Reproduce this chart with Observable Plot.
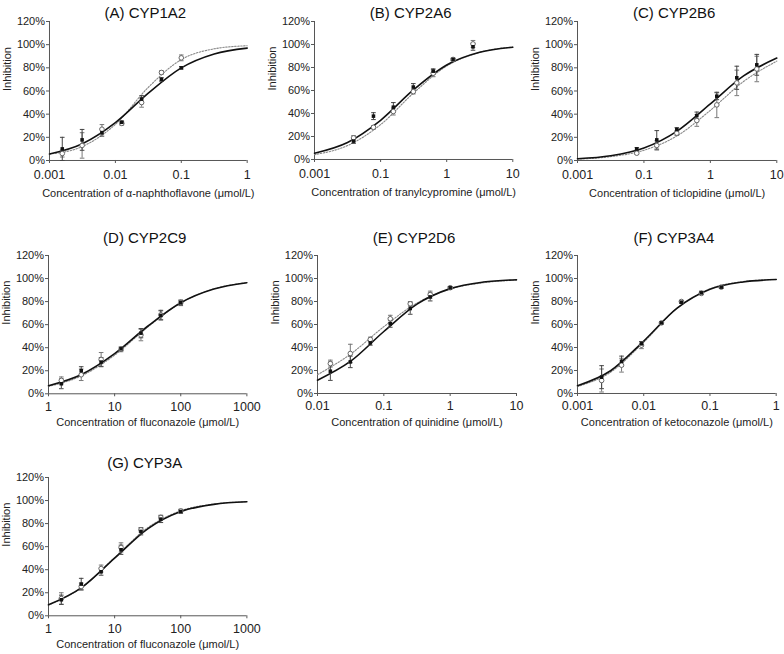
<!DOCTYPE html>
<html>
<head>
<meta charset="utf-8">
<script src="https://cdn.jsdelivr.net/npm/d3@7"></script>
<script src="https://cdn.jsdelivr.net/npm/@observablehq/plot@0.6"></script>
<style>
  html, body { margin: 0; padding: 0; background: #fff; overflow: hidden; }
  #chart { position: relative; width: 784px; height: 654px; background: #fff; }
  #chart svg { position: absolute; }
</style>
</head>
<body>
<div id="chart"></div>
<script>
// ---------- Data ----------
const titles = ["(A) CYP1A2", "(B) CYP2A6", "(C) CYP2B6", "(D) CYP2C9", "(E) CYP2D6", "(F) CYP3A4", "(G) CYP3A"];
const xAxisTitles = [
  "Concentration of α-naphthoflavone (μmol/L)",
  "Concentration of tranylcypromine (μmol/L)",
  "Concentration of ticlopidine (μmol/L)",
  "Concentration of fluconazole (μmol/L)",
  "Concentration of quinidine (μmol/L)",
  "Concentration of ketoconazole (μmol/L)",
  "Concentration of fluconazole (μmol/L)"
];
const yAxisTitle = "Inhibition";
const yTicks = [0, 20, 40, 60, 80, 100, 120];

// x tick positions and their printed labels
const ticksA = [0.001, 0.01, 0.1, 1];   const tickLabelsA = ["0.001", "0.01", "0.1", "1"];
const ticksB = [0.01, 0.1, 1, 10];      const tickLabelsB = ["0.001", "0.1", "1", "10"];
const ticksC = [0.01, 0.1, 1, 10];      const tickLabelsC = ["0.001", "0.1", "1", "10"];
const ticksD = [1, 10, 100, 1000];      const tickLabelsD = ["1", "10", "100", "1000"];
const ticksE = [0.01, 0.1, 1, 10];      const tickLabelsE = ["0.01", "0.1", "1", "10"];
const ticksF = [0.001, 0.01, 0.1, 1];   const tickLabelsF = ["0.001", "0.01", "0.1", "1"];
const ticksG = [1, 10, 100, 1000];      const tickLabelsG = ["1", "10", "100", "1000"];

// (A) CYP1A2
const concA = [0.0015625, 0.003125, 0.00625, 0.0125, 0.025, 0.05, 0.1];
const filledA = [10, 17.8, 24, 33, 53, 70, 80];
const filledErrA = [10, 9, 3, 1, 3, 1.5, 1];
const openA = [6, 13, 27, 32, 50, 76, 88.6];
const openErrA = [3, 11, 4, 1.5, 4, 1.5, 2.5];
const curveXA = [0.001, 0.00316, 0.01, 0.0316, 0.1, 0.316, 1];
const solidA = [5.6, 14.5, 32.7, 58.2, 80.0, 92.0, 97.0];
const dottedA = [5.5, 12.1, 31.2, 63.2, 87.1, 96.4, 99.1];

// (B) CYP2A6
const concB = [0.039, 0.078, 0.156, 0.3125, 0.625, 1.25, 2.5];
const filledB = [16, 37.7, 45.5, 63, 76.8, 87, 98];
const filledErrB = [2, 3, 4, 3, 2, 1, 3];
const openB = [18.8, 28, 41.7, 59, 75, 87, 100.5];
const openErrB = [2, 1.5, 3, 2, 3, 1, 3];
const curveXB = [0.01, 0.0316, 0.1, 0.316, 1, 3.16, 10];
const solidB = [5.5, 14.8, 34.1, 60.7, 82.2, 93.2, 97.6];
const dottedB = [4.2, 12.1, 30.3, 57.9, 81.3, 93.2, 97.8];

// (C) CYP2B6
const concC = [0.078, 0.156, 0.3125, 0.625, 1.25, 2.5, 5];
const filledC = [10, 17.8, 26.8, 38.8, 55.5, 71.4, 82.6];
const filledErrC = [1, 8, 1.5, 3, 3, 10, 9];
const openC = [6.3, 13, 23.6, 34.5, 48, 67, 79];
const openErrC = [1, 4, 2, 5, 11, 11, 11];
const curveXC = [0.01, 0.0316, 0.1, 0.316, 1, 3.16, 10];
const solidC = [1.5, 4.1, 10.8, 25.4, 48.9, 73.0, 88.4];
const dottedC = [1.2, 3.3, 8.8, 21.3, 43.3, 68.2, 85.8];

// (D) CYP2C9
const concD = [1.5625, 3.125, 6.25, 12.5, 25, 50, 100];
const filledD = [8.7, 20, 27.5, 39, 52.6, 68, 79];
const filledErrD = [4.3, 3.5, 4, 1.5, 4, 4, 2];
const openD = [11.6, 16.5, 29.8, 38.5, 51, 68.5, 79];
const openErrD = [3, 5, 6, 2, 5, 4, 2.5];
const curveXD = [1, 3.16, 10, 31.6, 100, 316, 1000];
const solidD = [7.0, 16.7, 34.8, 58.6, 79.0, 90.9, 96.4];
const dottedD = [6.4, 15.6, 33.5, 57.8, 78.9, 91.0, 96.5];

// (E) CYP2D6
const concE = [0.015625, 0.03125, 0.0625, 0.125, 0.25, 0.5, 1];
const filledE = [19.4, 27.5, 44, 60.6, 73.9, 84, 91.9];
const filledErrE = [8, 5, 2, 3, 5, 3.5, 1];
const openE = [26, 34.8, 47, 65, 78, 86, 92];
const openErrE = [3, 8, 2, 3, 2, 3, 1];
const curveXE = [0.01, 0.0316, 0.1, 0.316, 1, 3.16, 10];
const solidE = [11.6, 28.1, 53.9, 77.7, 91.2, 96.9, 98.9];
const dottedE = [16.4, 34.3, 58.1, 78.7, 90.8, 96.3, 98.6];

// (F) CYP3A4
const concF = [0.0023125, 0.004625, 0.00925, 0.0185, 0.037, 0.074, 0.148];
const filledF = [14.2, 28, 43.2, 61.4, 79.4, 87.5, 92.5];
const filledErrF = [10, 4.5, 2, 1, 1, 1.5, 1];
const openF = [11.3, 24.6, 42, 61.4, 80, 87, 92.5];
const openErrF = [10, 6, 3, 1, 1, 1, 1];
const curveXF = [0.001, 0.00316, 0.01, 0.0316, 0.1, 0.316, 1];
const solidF = [6.8, 19.8, 45.6, 74.0, 90.6, 97.0, 99.1];
const dottedF = [6.0, 18.5, 44.6, 74.1, 91.0, 97.3, 99.2];

// (G) CYP3A
const concG = [1.5625, 3.125, 6.25, 12.5, 25, 50, 100];
const filledG = [13.9, 27.5, 38.2, 57.3, 73.2, 83.9, 90.5];
const filledErrG = [4, 5, 3, 4, 3, 3, 1.5];
const openG = [15, 25.4, 41, 59.3, 74.6, 85.3, 91];
const openErrG = [5, 3, 3, 4, 2, 2, 1.5];
const curveXG = [1, 3.16, 10, 31.6, 100, 316, 1000];
const solidG = [9.5, 24.5, 50, 75.5, 90.5, 96.7, 98.9];
const dottedG = [9.3, 24.4, 50.5, 76.4, 91.1, 97.0, 99.0];

// ---------- Panel assembly ----------
const panelData = [
  {ticks: ticksA, labels: tickLabelsA, conc: concA, filled: filledA, filledErr: filledErrA, open: openA, openErr: openErrA, cx: curveXA, solid: solidA, dotted: dottedA},
  {ticks: ticksB, labels: tickLabelsB, conc: concB, filled: filledB, filledErr: filledErrB, open: openB, openErr: openErrB, cx: curveXB, solid: solidB, dotted: dottedB},
  {ticks: ticksC, labels: tickLabelsC, conc: concC, filled: filledC, filledErr: filledErrC, open: openC, openErr: openErrC, cx: curveXC, solid: solidC, dotted: dottedC},
  {ticks: ticksD, labels: tickLabelsD, conc: concD, filled: filledD, filledErr: filledErrD, open: openD, openErr: openErrD, cx: curveXD, solid: solidD, dotted: dottedD},
  {ticks: ticksE, labels: tickLabelsE, conc: concE, filled: filledE, filledErr: filledErrE, open: openE, openErr: openErrE, cx: curveXE, solid: solidE, dotted: dottedE},
  {ticks: ticksF, labels: tickLabelsF, conc: concF, filled: filledF, filledErr: filledErrF, open: openF, openErr: openErrF, cx: curveXF, solid: solidF, dotted: dottedF},
  {ticks: ticksG, labels: tickLabelsG, conc: concG, filled: filledG, filledErr: filledErrG, open: openG, openErr: openErrG, cx: curveXG, solid: solidG, dotted: dottedG}
];

// layout: plot frame in page pixels, title offset above frame, x-title offset below frame
const layout = [
  {x0: 49.3, x1: 247,   y0: 21,    y1: 160,   titleDy: 8,  labelDy: 33, tickPad: 7},
  {x0: 313.7, x1: 512,  y0: 21,    y1: 159,   titleDy: 8,  labelDy: 33, tickPad: 7},
  {x0: 576.7, x1: 776,  y0: 21,    y1: 160,   titleDy: 8,  labelDy: 33, tickPad: 7},
  {x0: 48.3, x1: 246.7, y0: 255,   y1: 393.3, titleDy: 17, labelDy: 29, tickPad: 5},
  {x0: 317,  x1: 516,   y0: 255,   y1: 393,   titleDy: 17, labelDy: 29, tickPad: 5},
  {x0: 577.3, x1: 776,  y0: 255,   y1: 393,   titleDy: 17, labelDy: 29, tickPad: 5},
  {x0: 48.3, x1: 246.7, y0: 476.7, y1: 615,   titleDy: 14, labelDy: 29, tickPad: 5}
];

const capSymbol = {
  draw(context, size) {
    const w = Math.sqrt(size);
    context.moveTo(-w, 0);
    context.lineTo(w, 0);
  }
};

const ML = 52, MR = 7, MT = 32, MB = 44;
const chart = document.getElementById("chart");
const font = "'Liberation Sans', Arial, Helvetica, sans-serif";

panelData.forEach((p, k) => {
  const L = layout[k];
  const pts = p.conc.map((c, i) => ({x: c, fy: p.filled[i], fe: p.filledErr[i], oy: p.open[i], oe: p.openErr[i]}));
  const curve = p.cx.map((c, i) => ({x: c, s: p.solid[i], d: p.dotted[i]}));
  const xDomain = [p.cx[0], p.cx[p.cx.length - 1]];
  const fw = L.x1 - L.x0, fh = L.y1 - L.y0;

  const svg = Plot.plot({
    width: fw + ML + MR,
    height: fh + MT + MB,
    marginLeft: ML, marginRight: MR, marginTop: MT, marginBottom: MB,
    style: {fontFamily: font, fontSize: "11px", background: "transparent", overflow: "visible", color: "#222"},
    x: {type: "log", domain: xDomain},
    y: {domain: [0, 120]},
    marks: [
      Plot.axisY({ticks: yTicks, tickFormat: d => d + "%", tickSize: 3, tickPadding: 1.5, fontSize: 11, label: null, stroke: "#555"}),
      Plot.axisX({ticks: p.ticks, tickFormat: d => p.labels[p.ticks.indexOf(d)], tickSize: 3, tickPadding: L.tickPad, fontSize: 12.5, label: null, stroke: "#555"}),
      Plot.ruleX([xDomain[0]], {stroke: "#555", strokeWidth: 1}),
      Plot.ruleY([0], {stroke: "#555", strokeWidth: 1}),
      // fitted curves
      Plot.line(curve, {x: "x", y: "d", curve: "monotone-x", stroke: "#888", strokeWidth: 1.1, strokeDasharray: "1.5,1.5"}),
      Plot.line(curve, {x: "x", y: "s", curve: "monotone-x", stroke: "#111", strokeWidth: 1.6}),
      // error bars (open)
      Plot.ruleX(pts, {x: "x", y1: d => d.oy - d.oe, y2: d => d.oy + d.oe, stroke: "#777", strokeWidth: 1}),
      Plot.dot(pts, {x: "x", y: d => d.oy + d.oe, symbol: capSymbol, r: 1.3, stroke: "#777", fill: "none", strokeWidth: 1}),
      Plot.dot(pts, {x: "x", y: d => d.oy - d.oe, symbol: capSymbol, r: 1.3, stroke: "#777", fill: "none", strokeWidth: 1}),
      // error bars (filled)
      Plot.ruleX(pts, {x: "x", y1: d => d.fy - d.fe, y2: d => d.fy + d.fe, stroke: "#444", strokeWidth: 1}),
      Plot.dot(pts, {x: "x", y: d => d.fy + d.fe, symbol: capSymbol, r: 1.3, stroke: "#444", fill: "none", strokeWidth: 1}),
      Plot.dot(pts, {x: "x", y: d => d.fy - d.fe, symbol: capSymbol, r: 1.3, stroke: "#444", fill: "none", strokeWidth: 1}),
      // points
      Plot.dot(pts, {x: "x", y: "oy", symbol: "circle", r: 2.3, fill: "white", stroke: "#666", strokeWidth: 1}),
      Plot.dot(pts, {x: "x", y: "fy", symbol: "square", r: 2.0, fill: "#111", stroke: "none"}),
      // texts
      Plot.text([titles[k]], {frameAnchor: "top", dy: -L.titleDy, dx: -3, fontSize: 15, lineAnchor: "middle", fill: "#111"}),
      Plot.text([xAxisTitles[k]], {frameAnchor: "bottom", dy: L.labelDy, fontSize: 11, lineAnchor: "middle", fill: "#222"}),
      Plot.text([yAxisTitle], {frameAnchor: "left", dx: -42, rotate: -90, fontSize: 11, lineAnchor: "middle", fill: "#222"})
    ]
  });
  svg.style.left = (L.x0 - ML) + "px";
  svg.style.top = (L.y0 - MT) + "px";
  chart.appendChild(svg);
});
</script>
</body>
</html>
